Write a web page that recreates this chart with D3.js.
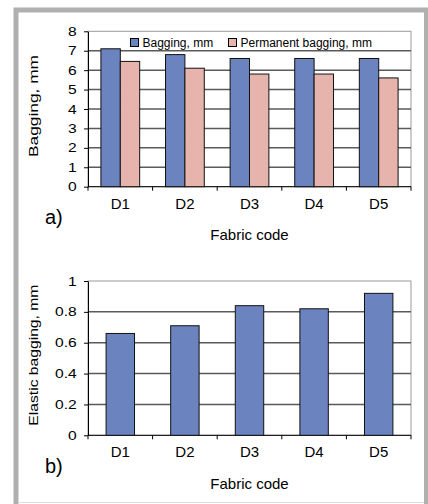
<!DOCTYPE html>
<html lang="en">
<head>
  <meta charset="UTF-8">
  <title>Bagging of fabrics</title>
  <script src="https://d3js.org/d3.v7.min.js"></script>
  <style>
    body {
      margin: 0;
      padding: 0;
      background: #fff;
      font-family: "Liberation Sans", Arial, sans-serif;
    }
    svg { display: block; }
    .tick-label { font-size: 12.5px; fill: #000; }
    .cat-label { font-size: 15px; fill: #000; }
    .axis-title { font-size: 13px; fill: #000; }
    .legend-text { font-size: 12px; fill: #000; }
  </style>
</head>
<body>
  <div id="chart"></div>

  <script>
    const categories = ["D1", "D2", "D3", "D4", "D5"];
    const bagging = [7.1, 6.8, 6.6, 6.6, 6.6];
    const permanentBagging = [6.45, 6.1, 5.8, 5.8, 5.6];
    const elasticBagging = [0.66, 0.71, 0.84, 0.82, 0.92];
    const baggingTicks = [0, 1, 2, 3, 4, 5, 6, 7, 8];
    const elasticTicks = [0, 0.2, 0.4, 0.6, 0.8, 1];

    const W = 428, H = 504;
    const blue = "#6b83bf";
    const pink = "#e6b4ad";

    const svg = d3.select("#chart")
                  .append("svg")
                  .attr("width", W)
                  .attr("height", H);

    // outer gray frame
    svg.append("rect")
       .attr("x", 16).attr("y", 10)
       .attr("width", 410.5).attr("height", 520)
       .attr("fill", "none")
       .attr("stroke", "#b0b0b0")
       .attr("stroke-width", 5);
    svg.append("line")
       .attr("x1", 18).attr("x2", 424)
       .attr("y1", 502.5).attr("y2", 502.5)
       .attr("stroke", "#dedede");

    const left = 88, right = 411;

    // draws frame, grid, axes and labels of one panel, returns scales
    function panel(top, bottom, ticks, yTitle, titleLen, tag) {
      const g = svg.append("g");
      const x = d3.scaleBand().domain(categories).range([left, right]).padding(0);
      const y = d3.scaleLinear().domain([0, d3.max(ticks)]).range([bottom, top]);

      g.append("rect")
       .attr("x", left).attr("y", top)
       .attr("width", right - left).attr("height", bottom - top)
       .attr("fill", "#fff")
       .attr("stroke", "#9a9a9a");

      g.selectAll(".grid")
       .data(ticks.filter(t => t > 0 && t < d3.max(ticks)))
       .enter()
       .append("line")
       .attr("x1", left).attr("x2", right)
       .attr("y1", d => y(d)).attr("y2", d => y(d))
       .attr("stroke", "#5a5a5a")
       .attr("stroke-width", 1.5);

      const yAxis = g.append("g")
       .attr("transform", `translate(${left},0)`)
       .call(d3.axisLeft(y).tickValues(ticks).tickSize(4).tickSizeOuter(0).tickFormat(d => String(d)));
      yAxis.select(".domain").attr("stroke", "#000");
      yAxis.selectAll(".tick line").attr("stroke", "#000");
      yAxis.selectAll("text")
           .attr("class", "tick-label")
           .attr("font-family", null)
           .attr("font-size", null)
           .attr("x", -9)
           .attr("transform", "scale(1.25,1)");

      const xAxis = g.append("g")
       .attr("transform", `translate(0,${bottom})`);
      xAxis.append("line")
       .attr("x1", left).attr("x2", right)
       .attr("stroke", "#000");
      xAxis.selectAll(".xtick")
       .data(categories.map(c => x(c)).concat([right]))
       .enter()
       .append("line")
       .attr("x1", d => d).attr("x2", d => d)
       .attr("y1", 0).attr("y2", 4)
       .attr("stroke", "#000");
      xAxis.selectAll(".cat-label")
       .data(categories)
       .enter()
       .append("text")
       .attr("class", "cat-label")
       .attr("x", d => x(d) + x.bandwidth() / 2)
       .attr("y", 22)
       .attr("text-anchor", "middle")
       .text(d => d);

      g.append("text")
       .attr("class", "cat-label")
       .attr("x", (left + right) / 2)
       .attr("y", bottom + 53.5)
       .attr("text-anchor", "middle")
       .text("Fabric code");

      g.append("text")
       .attr("class", "axis-title")
       .attr("transform", `translate(38,${(top + bottom) / 2 - 3}) rotate(-90)`)
       .attr("text-anchor", "middle")
       .attr("textLength", titleLen)
       .attr("lengthAdjust", "spacingAndGlyphs")
       .text(yTitle);

      g.append("text")
       .attr("x", 45)
       .attr("y", bottom + 37.5)
       .attr("font-size", "20px")
       .text(tag);

      return { g, x, y };
    }

    // a) bagging and permanent bagging
    const a = panel(31.3, 186.7, baggingTicks, "Bagging, mm", 102, "a)");
    const halfA = a.x.bandwidth() * 0.3;

    a.g.selectAll(".bar-bagging")
       .data(bagging)
       .enter()
       .append("rect")
       .attr("x", (d, i) => a.x(categories[i]) + a.x.bandwidth() / 2 - halfA)
       .attr("width", halfA)
       .attr("y", d => a.y(d))
       .attr("height", d => a.y(0) - a.y(d))
       .attr("fill", blue)
       .attr("stroke", "#111");

    a.g.selectAll(".bar-permanent")
       .data(permanentBagging)
       .enter()
       .append("rect")
       .attr("x", (d, i) => a.x(categories[i]) + a.x.bandwidth() / 2)
       .attr("width", halfA)
       .attr("y", d => a.y(d))
       .attr("height", d => a.y(0) - a.y(d))
       .attr("fill", pink)
       .attr("stroke", "#111");

    const legend = [
      { label: "Bagging, mm", color: blue, x: 130.5 },
      { label: "Permanent bagging, mm", color: pink, x: 228.5 }
    ];
    const lg = a.g.selectAll(".legend")
       .data(legend)
       .enter()
       .append("g")
       .attr("transform", d => `translate(${d.x},38.5)`);
    lg.append("rect")
      .attr("width", 8).attr("height", 8)
      .attr("fill", d => d.color)
      .attr("stroke", "#000");
    lg.append("text")
      .attr("class", "legend-text")
      .attr("x", 12).attr("y", 8)
      .text(d => d.label);

    // b) elastic bagging
    const b = panel(281, 435.3, elasticTicks, "Elastic bagging, mm", 141, "b)");
    const wB = b.x.bandwidth() * 0.44;

    b.g.selectAll(".bar-elastic")
       .data(elasticBagging)
       .enter()
       .append("rect")
       .attr("x", (d, i) => b.x(categories[i]) + b.x.bandwidth() / 2 - wB / 2)
       .attr("width", wB)
       .attr("y", d => b.y(d))
       .attr("height", d => b.y(0) - b.y(d))
       .attr("fill", blue)
       .attr("stroke", "#111");
  </script>
</body>
</html>
